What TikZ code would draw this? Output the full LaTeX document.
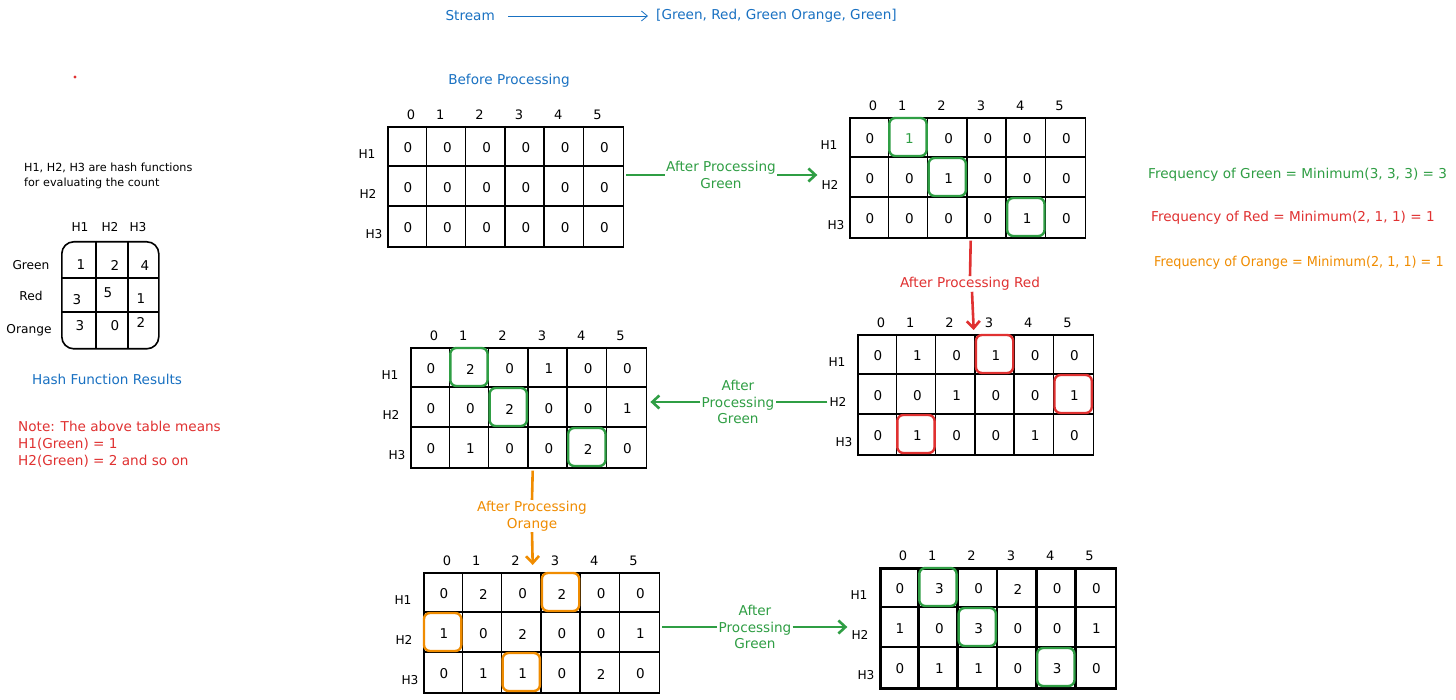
\documentclass[tikz,border=0pt]{standalone}
\usepackage{fontspec}
\setmainfont{DejaVu Sans}
\usetikzlibrary{arrows.meta,calc}
\definecolor{cgreen}{HTML}{2F9E44}
\definecolor{cred}{HTML}{E03131}
\definecolor{corange}{HTML}{F08C00}
\definecolor{cblue}{HTML}{1971C2}
\tikzset{
  cellnum/.style={font=\fontsize{13.5}{15}\selectfont, inner sep=0pt},
  hdr/.style={font=\fontsize{13}{15}\selectfont, inner sep=0pt},
  rowlab/.style={font=\fontsize{12.2}{14}\selectfont, inner sep=0pt},
  hl/.style={line width=2.4pt, rounded corners=6pt},
  flow/.style={line width=2.6pt},
  tip/.style={-{Straight Barb[length=7pt,width=13pt]}},
  lbl/.style={font=\fontsize{13.6}{16.5}\selectfont, align=center, inner sep=1pt},
  txt/.style={font=\fontsize{13.6}{16}\selectfont, inner sep=0pt},
  smalltxt/.style={font=\fontsize{11.2}{15}\selectfont, inner sep=0pt, align=left},
}
% #1 line width, #2 name, #3 left, #4 top, #5-#7 row values
\newcommand{\sketchgrid}[7][1.6pt]{%
  \node[draw, line width=#1, minimum width=235.8pt, minimum height=120pt,
        inner sep=0pt, anchor=north west] (#2) at (#3,#4) {};
  \foreach \k in {1,...,5}
    \draw[line width=#1] ({#3+39.3*\k},#4) -- ({#3+39.3*\k},{#4+120});
  \foreach \k in {1,2}
    \draw[line width=#1] (#3,{#4+40*\k}) -- ({#3+235.8},{#4+40*\k});
  \node[rowlab] (#2-H1) at ({#3-20},{#4+28}) {H1};
  \node[rowlab] (#2-H2) at ({#3-19},{#4+68}) {H2};
  \node[rowlab] (#2-H3) at ({#3-13},{#4+108}) {H3};
  \node[hdr] (#2-c0) at ({#3+24},{#4-11}) {0};
  \foreach \k in {1,...,5}
    \node[hdr] (#2-c\k) at ({#3+39.3*\k+14},{#4-11}) {\k};
  \foreach \v [count=\c from 0] in {#5}
    \node[cellnum] (#2-a\c) at ({#3+39.3*\c+21},{#4+22}) {\v};
  \foreach \v [count=\c from 0] in {#6}
    \node[cellnum] (#2-b\c) at ({#3+39.3*\c+21},{#4+62}) {\v};
  \foreach \v [count=\c from 0] in {#7}
    \node[cellnum] (#2-d\c) at ({#3+39.3*\c+21},{#4+102}) {\v};
}
% #1 grid, #2 row (1..3), #3 col (0..5), #4 colour
\newcommand{\hlcell}[4]{%
  \draw[hl,#4] ($(#1.north west)+({39.3*#3+1},{40*(#2-1)+1})$)
    rectangle ($(#1.north west)+({39.3*(#3+1)-1},{40*#2-1})$);
}
\begin{document}
\begin{tikzpicture}[x=1pt,y=-1pt]
\useasboundingbox (0,0) rectangle (1456,700);
\fill[white] (0,0) rectangle (1456,700);

% stream
\node[txt, text=cblue, anchor=east] (stream) at (495,16) {Stream};
\node[txt, text=cblue, anchor=west] (slist) at (656,16) {[Green, Red, Green Orange, Green]};
\draw[cblue, line width=0.8pt, -{Straight Barb[length=6pt,width=10pt]}]
  ($(stream.east)+(13,0)$) -- ($(slist.west)+(-8,0)$);

% red dot
\fill[cred] (75,77) circle (1.6);

% left panel
\node[smalltxt, anchor=west] (expl) at (24,176) {H1, H2, H3 are hash functions\\for evaluating the count};
\node[draw, line width=1.6pt, rounded corners=12pt, minimum width=97pt,
      minimum height=107pt, inner sep=0pt, anchor=north west] (ht) at (61,241) {};
\draw[line width=1.6pt] (96,241) -- (96,348);
\draw[line width=1.6pt] (128,241) -- (128,348);
\draw[line width=1.6pt] (61,278) -- (158,278);
\draw[line width=1.6pt] (61,312) -- (158,312);
\node[rowlab] (th1) at (80,227) {H1};
\node[rowlab] (th2) at (110,227) {H2};
\node[rowlab] (th3) at (138,227) {H3};
\node[rowlab] (tg) at (31,265) {Green};
\node[rowlab] (tr) at (31,296) {Red};
\node[rowlab] (to) at (29,330) {Orange};
\node[cellnum] (t11) at (81,265) {1};
\node[cellnum] (t12) at (115,265) {2};
\node[cellnum] (t13) at (145,266) {4};
\node[cellnum] (t21) at (77,300) {3};
\node[cellnum] (t22) at (108,293) {5};
\node[cellnum] (t23) at (141,299) {1};
\node[cellnum] (t31) at (80,326) {3};
\node[cellnum] (t32) at (115,326) {0};
\node[cellnum] (t33) at (141,322) {2};
\node[txt, text=cblue] (hfr) at (107,379) {Hash Function Results};
\node[txt, text=cred, anchor=west, align=left, font=\fontsize{13.6}{17}\selectfont] (note) at (18,444)
  {Note: The above table means\\H1(Green) = 1\\H2(Green) = 2 and so on};

% grids
\node[txt, text=cblue] (bp) at (509,81) {Before Processing};
\sketchgrid{g1}{387}{126}{0,0,0,0,0,0}{0,0,0,0,0,0}{0,0,0,0,0,0}
\sketchgrid{g2}{849}{117}{0,{\color{cgreen}1},0,0,0,0}{0,0,1,0,0,0}{0,0,0,0,1,0}
\hlcell{g2}{1}{1}{cgreen}
\hlcell{g2}{2}{2}{cgreen}
\hlcell{g2}{3}{4}{cgreen}
\sketchgrid{g3}{857}{334}{0,1,0,1,0,0}{0,0,1,0,0,1}{0,1,0,0,1,0}
\hlcell{g3}{1}{3}{cred}
\hlcell{g3}{2}{5}{cred}
\hlcell{g3}{3}{1}{cred}
\sketchgrid{g4}{410}{347}{0,2,0,1,0,0}{0,0,2,0,0,1}{0,1,0,0,2,0}
\hlcell{g4}{1}{1}{cgreen}
\hlcell{g4}{2}{2}{cgreen}
\hlcell{g4}{3}{4}{cgreen}
\sketchgrid{g5}{423}{572}{0,2,0,2,0,0}{1,0,2,0,0,1}{0,1,1,0,2,0}
\hlcell{g5}{1}{3}{corange}
\hlcell{g5}{2}{0}{corange}
\hlcell{g5}{3}{2}{corange}
\sketchgrid[2.6pt]{g6}{879}{567}{0,3,0,2,0,0}{1,0,3,0,0,1}{0,1,1,0,3,0}
\hlcell{g6}{1}{1}{cgreen}
\hlcell{g6}{2}{2}{cgreen}
\hlcell{g6}{3}{4}{cgreen}

% transitions
\node[lbl, text=cgreen] (l1) at (721,175) {After Processing\\Green};
\draw[flow, cgreen] ($(g1.east |- l1.west)+(2,0)$) -- (l1.west);
\draw[flow, cgreen, tip] (l1.east) -- ($(l1.east -| g2-H2.west)+(-4,0)$);

\node[lbl, text=cred] (l2) at (970,284) {After Processing Red};
\draw[flow, cred] ($(g2.south)+(3,2)$) -- (l2.north -| 970,0);
\draw[flow, cred, tip] (l2.south -| 972,0) -- ($(g3.north)+(-2,-4)$);

\node[lbl, text=cgreen] (l3) at (738,402) {After\\Processing\\Green};
\draw[flow, cgreen] ($(l3.east -| g3-H2.west)+(-2,0)$) -- (l3.east);
\draw[flow, cgreen, tip] (l3.west) -- ($(g4.east |- l3.west)+(3,0)$);

\node[lbl, text=corange] (l4) at (532,516) {After Processing\\Orange};
\draw[flow, corange] ($(g4.south)+(4,2)$) -- (l4.north -| 532,0);
\draw[flow, corange, tip] (l4.south -| 532,0) -- ($(g5.north)+(-9,-7)$);

\node[lbl, text=cgreen] (l5) at (755,627) {After\\Processing\\Green};
\draw[flow, cgreen] ($(g5.east |- l5.west)+(2,0)$) -- (l5.west);
\draw[flow, cgreen, tip] (l5.east) -- ($(l5.east -| g6-H2.west)+(-4,0)$);

% frequencies
\node[txt, text=cgreen, anchor=west] (fg) at (1148,175) {Frequency of Green = Minimum(3, 3, 3) = 3};
\node[txt, text=cred, anchor=west] (fr) at (1151,218) {Frequency of Red = Minimum(2, 1, 1) = 1};
\node[txt, text=corange, anchor=west] (fo) at (1154,263) {\scalebox{0.94}[1]{Frequency of Orange = Minimum(2, 1, 1) = 1}};
\end{tikzpicture}
\end{document}
